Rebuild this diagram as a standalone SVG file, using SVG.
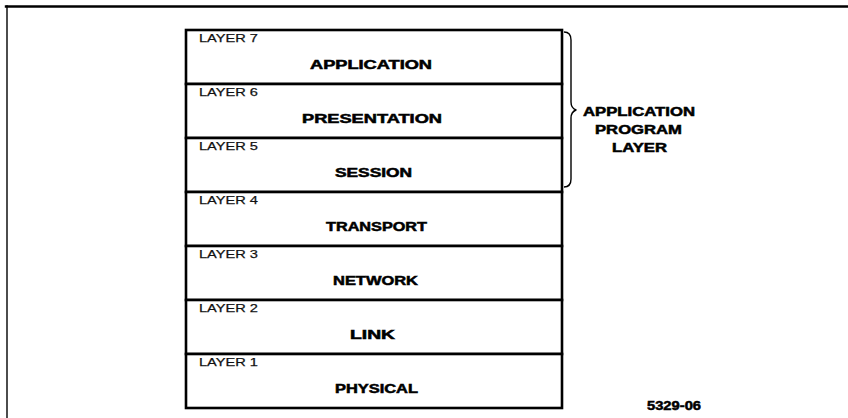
<svg xmlns="http://www.w3.org/2000/svg" width="848" height="418" viewBox="0 0 848 418">
  <style>
    .frame { fill: none; stroke: #000; stroke-linecap: square; }
    .box { fill: #fff; stroke: #000; stroke-width: 2.6; }
    .num { font-family: "Liberation Sans", Arial, sans-serif; font-size: 11.5px; fill: #111; stroke: #111; stroke-width: 0.25; }
    .name { font-family: "Liberation Sans", Arial, sans-serif; font-size: 12px; font-weight: bold; fill: #000; stroke: #000; stroke-width: 0.5; text-anchor: middle; }
    .note { font-family: "Liberation Sans", Arial, sans-serif; font-size: 12px; font-weight: bold; fill: #000; stroke: #000; stroke-width: 0.5; text-anchor: middle; }
    .brace { fill: none; stroke: #000; stroke-width: 1.4; stroke-linejoin: round; }
  </style>

  <rect width="848" height="418" fill="#fff"/>

  <!-- page frame -->
  <g id="frame">
    <line class="frame" x1="6" y1="6.5" x2="848" y2="6.5" stroke-width="2.4"/>
    <line class="frame" x1="7" y1="6" x2="7" y2="418" stroke-width="1.4"/>
  </g>

  <!-- protocol stack -->
  <g id="layer7">
    <rect class="box" x="186" y="30" width="376" height="54"/>
    <text class="num" x="199" y="42" textLength="59" lengthAdjust="spacingAndGlyphs">LAYER 7</text>
    <text class="name" x="371" y="69" textLength="122" lengthAdjust="spacingAndGlyphs">APPLICATION</text>
  </g>
  <g id="layer6">
    <rect class="box" x="186" y="84" width="376" height="54"/>
    <text class="num" x="199" y="96" textLength="59" lengthAdjust="spacingAndGlyphs">LAYER 6</text>
    <text class="name" x="372" y="123" textLength="140" lengthAdjust="spacingAndGlyphs">PRESENTATION</text>
  </g>
  <g id="layer5">
    <rect class="box" x="186" y="138" width="376" height="54"/>
    <text class="num" x="199" y="150" textLength="59" lengthAdjust="spacingAndGlyphs">LAYER 5</text>
    <text class="name" x="373.5" y="177" textLength="77" lengthAdjust="spacingAndGlyphs">SESSION</text>
  </g>
  <g id="layer4">
    <rect class="box" x="186" y="192" width="376" height="54"/>
    <text class="num" x="199" y="204" textLength="59" lengthAdjust="spacingAndGlyphs">LAYER 4</text>
    <text class="name" x="376.5" y="231" textLength="101" lengthAdjust="spacingAndGlyphs">TRANSPORT</text>
  </g>
  <g id="layer3">
    <rect class="box" x="186" y="246" width="376" height="54"/>
    <text class="num" x="199" y="258" textLength="59" lengthAdjust="spacingAndGlyphs">LAYER 3</text>
    <text class="name" x="375.5" y="285" textLength="85" lengthAdjust="spacingAndGlyphs">NETWORK</text>
  </g>
  <g id="layer2">
    <rect class="box" x="186" y="300" width="376" height="54"/>
    <text class="num" x="199" y="312" textLength="59" lengthAdjust="spacingAndGlyphs">LAYER 2</text>
    <text class="name" x="372.5" y="339" textLength="45" lengthAdjust="spacingAndGlyphs">LINK</text>
  </g>
  <g id="layer1">
    <rect class="box" x="186" y="354" width="376" height="54"/>
    <text class="num" x="199" y="366" textLength="59" lengthAdjust="spacingAndGlyphs">LAYER 1</text>
    <text class="name" x="376.5" y="393" textLength="83" lengthAdjust="spacingAndGlyphs">PHYSICAL</text>
  </g>

  <!-- brace grouping layers 5 to 7 -->
  <g id="connectors">
    <path class="brace" d="M564 32 Q571 32 571 40 L571 102 Q571 108 576 110 Q571 112 571 118 L571 179 Q571 187 564 187"/>
  </g>

  <g id="group-label">
    <text class="note" x="639" y="116" textLength="112" lengthAdjust="spacingAndGlyphs">APPLICATION</text>
    <text class="note" x="638.5" y="134" textLength="87" lengthAdjust="spacingAndGlyphs">PROGRAM</text>
    <text class="note" x="639.5" y="152" textLength="55" lengthAdjust="spacingAndGlyphs">LAYER</text>
  </g>

  <g id="figure-number">
    <text class="note" x="674" y="410" textLength="54" lengthAdjust="spacingAndGlyphs">5329-06</text>
  </g>
</svg>
